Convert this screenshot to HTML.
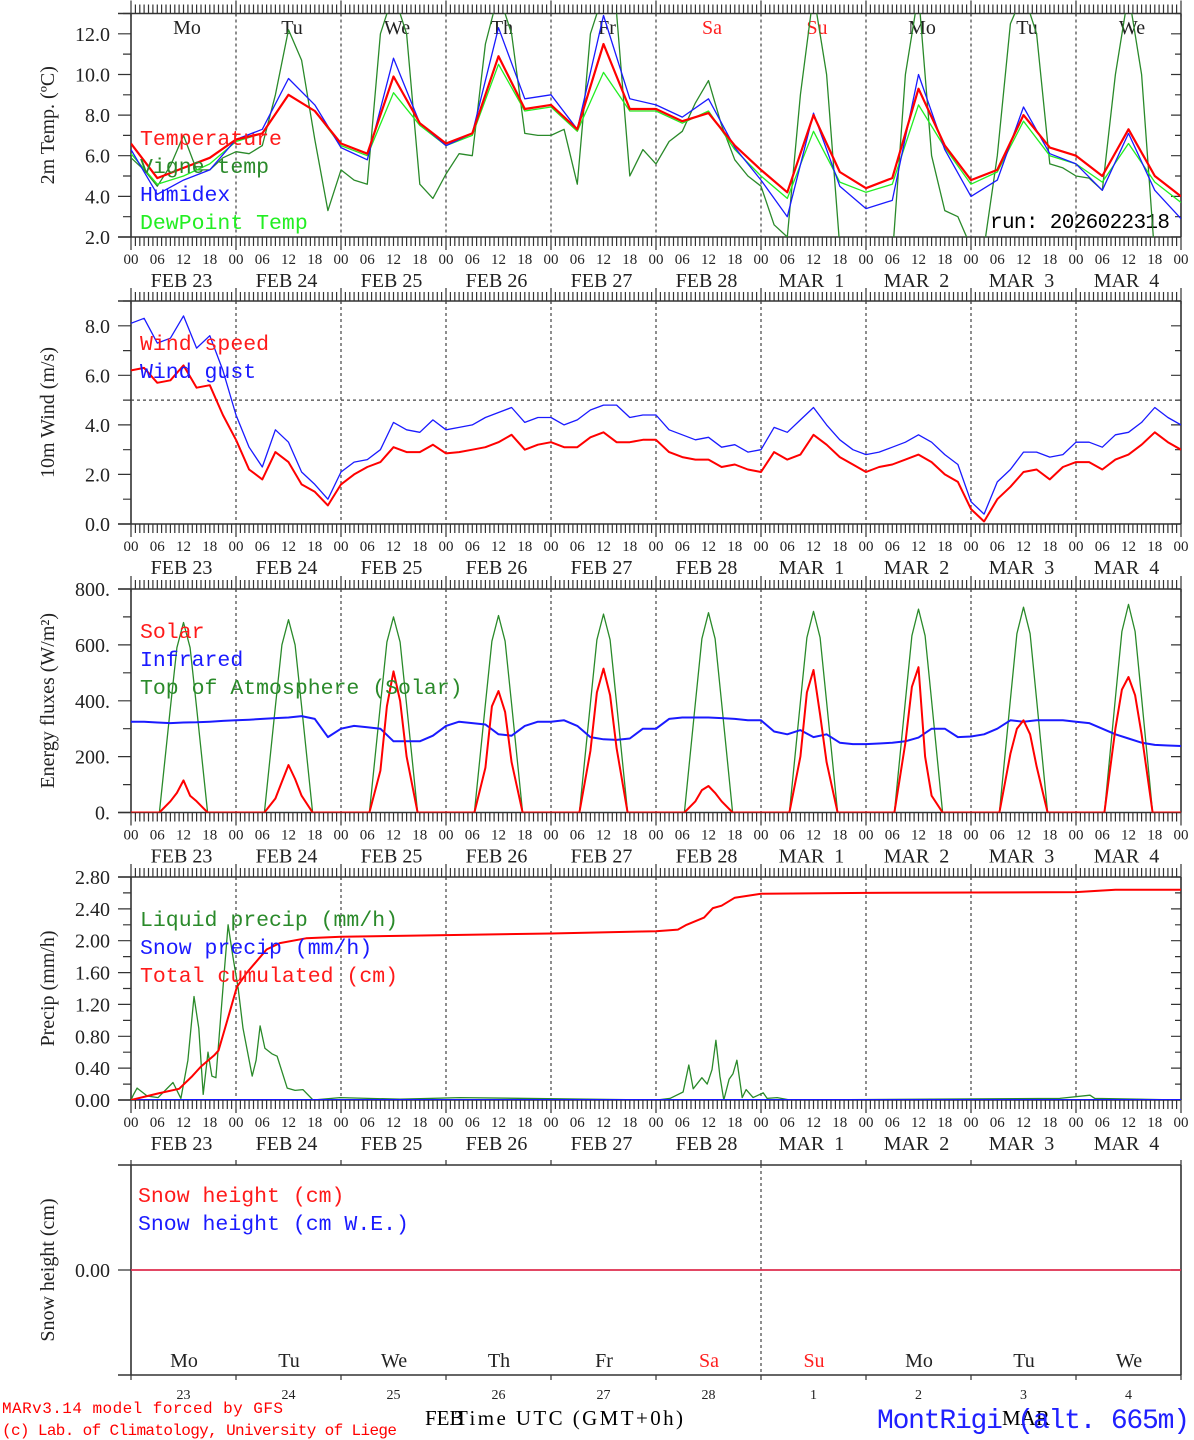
<!DOCTYPE html>
<html><head><meta charset="utf-8"><title>MAR forecast MontRigi</title>
<style>
html,body{margin:0;padding:0;background:#fff;}
svg{display:block;}
text{font-family:"Liberation Serif","DejaVu Serif",serif;}
.mono{font-family:"Liberation Mono","DejaVu Sans Mono",monospace;}
</style></head>
<body>
<svg id="chart" xmlns="http://www.w3.org/2000/svg" width="1194" height="1440" viewBox="0 0 1194 1440">
<rect x="0" y="0" width="1194" height="1440" fill="#fff"/>
<text x="990" y="228" font-size="21" textLength="180" class="mono">run: 2026022318</text>
<text x="2" y="1413" font-size="16" fill="#ff0000" textLength="281" class="mono">MARv3.14 model forced by GFS</text>
<text x="2" y="1435" font-size="16" fill="#ff0000" textLength="395" class="mono">(c) Lab. of Climatology, University of Liege</text>
<text x="425" y="1425" font-size="21">FEB</text>
<text x="455" y="1425" font-size="21" textLength="228">Time UTC (GMT+0h)</text>
<text x="1002" y="1425" font-size="21">MAR</text>
<text x="877" y="1428" font-size="28" fill="#2020ff" textLength="313" class="mono">MontRigi (alt. 665m)</text>
</svg>
<script>
// ---------- DATA ----------
const dayNames=["Mo","Tu","We","Th","Fr","Sa","Su","Mo","Tu","We"];
const dateLabels=["FEB 23","FEB 24","FEB 25","FEB 26","FEB 27","FEB 28","MAR  1","MAR  2","MAR  3","MAR  4"];
const dayNums=["23","24","25","26","27","28","1","2","3","4"];
const hourLabels=["00","06","12","18"];
const p1Ticks=[2,4,6,8,10,12];
const p1TickLabels=["2.0","4.0","6.0","8.0","10.0","12.0"];
const p2Ticks=[0,2,4,6,8];
const p2TickLabels=["0.0","2.0","4.0","6.0","8.0"];
const p3Ticks=[0,200,400,600,800];
const p3TickLabels=["0.","200.","400.","600.","800."];
const p4Ticks=[0,0.4,0.8,1.2,1.6,2.0,2.4,2.8];
const p4TickLabels=["0.00","0.40","0.80","1.20","1.60","2.00","2.40","2.80"];
const p5Ticks=[0];
const p5TickLabels=["0.00"];

// 6-hourly temperatures
const temperature=[6.6,4.9,5.4,5.9, 6.8,7.1,9.0,8.2, 6.6,6.1,9.9,7.6, 6.6,7.1,10.9,8.3, 8.5,7.3,11.5,8.3, 8.3,7.7,8.1,6.5, 5.3,4.2,8.0,5.2, 4.4,4.9,9.3,6.5, 4.8,5.3,8.0,6.4, 6.0,5.0,7.3,5.0, 4.0];
const humidex=[6.3,4.1,4.8,5.3, 6.8,7.3,9.8,8.5, 6.4,5.8,10.8,7.6, 6.5,7.1,12.3,8.8, 9.0,7.3,12.9,8.8, 8.5,7.9,8.8,6.4, 4.8,3.0,8.1,4.5, 3.4,3.8,10.0,6.3, 4.0,4.8,8.4,6.1, 5.6,4.3,7.1,4.3, 2.9];
const dewpoint=[6.1,4.6,5.0,5.6, 6.7,7.1,9.0,8.2, 6.5,6.0,9.1,7.5, 6.5,7.0,10.5,8.2, 8.4,7.2,10.1,8.2, 8.2,7.6,8.2,6.3, 5.0,3.9,7.2,4.7, 4.2,4.6,8.5,6.4, 4.6,5.2,7.7,6.0, 5.6,4.7,6.6,4.7, 3.7];
// 3-hourly vigne temperature
const vigne=[5.9,5.3,4.5,5.5,7.0,5.3,5.3,5.9, 6.2,6.1,6.5,9.0,12.2,10.7,6.8,3.3, 5.3,4.8,4.6,12,14,12,4.6,3.9, 5.1,6.1,6.0,11.5,14,12,7.1,7.0, 7.0,7.3,4.6,12,14,13,5.0,6.3, 5.6,6.7,7.2,8.6,9.7,7.5,5.8,5.0, 4.5,2.6,2.0,9,14,10,1.5,0, 0,0,1.0,10,14,6,3.3,3.0, 1.5,1.5,6,12.5,14,12,5.6,5.4, 5.0,4.9,4.3,10,14,10,1.0,0, 0];
// 3-hourly wind
const windSpeed=[6.2,6.3,5.7,5.8,6.4,5.5,5.6,4.4, 3.4,2.2,1.8,2.9,2.5,1.6,1.3,0.75, 1.6,2.0,2.3,2.5,3.1,2.9,2.9,3.2, 2.85,2.9,3.0,3.1,3.3,3.6,3.0,3.2, 3.3,3.1,3.1,3.5,3.7,3.3,3.3,3.4, 3.4,2.9,2.7,2.6,2.6,2.3,2.4,2.2, 2.1,2.9,2.6,2.8,3.6,3.2,2.7,2.4, 2.1,2.3,2.4,2.6,2.8,2.5,2.0,1.7, 0.6,0.1,1.0,1.5,2.1,2.2,1.8,2.3, 2.5,2.5,2.2,2.6,2.8,3.2,3.7,3.3, 3.0];
const windGust=[8.1,8.3,7.3,7.5,8.4,7.1,7.6,6.2, 4.4,3.1,2.3,3.8,3.3,2.1,1.6,1.0, 2.1,2.5,2.6,3.0,4.1,3.8,3.7,4.2, 3.8,3.9,4.0,4.3,4.5,4.7,4.1,4.3, 4.3,4.0,4.2,4.6,4.8,4.8,4.3,4.4, 4.4,3.8,3.6,3.4,3.5,3.1,3.2,2.9, 3.0,3.9,3.7,4.2,4.7,4.0,3.4,3.0, 2.8,2.9,3.1,3.3,3.6,3.3,2.8,2.4, 0.9,0.4,1.7,2.2,2.9,2.9,2.7,2.8, 3.3,3.3,3.1,3.6,3.7,4.1,4.7,4.3, 4.0];
// daytime energy fluxes: per day, sampled at sunHourOffsets
const sunHourOffsets=[6.5,9,10.5,12,13.5,15,17.5];
const solar=[0,40,70,115,60,40,0, 0,50,110,170,120,60,0, 0,150,380,505,400,200,0, 0,160,380,435,360,180,0, 0,220,430,515,420,230,0, 0,40,80,95,70,40,0, 0,200,430,510,350,180,0, 0,250,450,520,200,60,0, 0,210,300,330,280,165,0, 0,300,440,485,420,280,0];
const toaSolar=[0,375,590,680,590,375,0, 0,380,600,690,600,380,0, 0,385,610,700,610,385,0, 0,388,613,705,613,388,0, 0,390,618,710,618,390,0, 0,393,622,715,622,393,0, 0,396,626,720,626,396,0, 0,400,633,728,633,400,0, 0,404,640,735,640,404,0, 0,410,648,745,648,410,0];
// 3-hourly infrared
const infrared=[325,325,322,320,322,323,325,328, 330,332,335,338,340,345,335,270, 300,310,305,300,255,255,255,275, 310,325,320,315,280,275,310,325, 325,330,310,270,262,260,265,300, 300,335,340,340,340,338,335,330, 330,290,280,295,270,280,250,245, 245,247,250,255,268,300,300,270, 272,280,300,330,325,330,330,330, 325,320,300,280,265,250,242,240, 238];
// precipitation (irregular hours)
const precipHours=[0,0.5,1.4,3.7,6.2,9.6,11.4,13.0,14.4,15.5,16.5,17.6,18.5,19.4,21.3,22.2,23.3,24.5,25.6,27.7,28.6,29.5,30.6,32.2,33.4,35.7,37.5,39.3,41.6,47.8,61.5,75.2,120.2,123.2,126.2,127.5,128.5,130.5,131.7,132.8,133.7,134.6,135.5,136.7,137.6,138.5,139.7,140.6,142.2,144.5,145.4,147.7,150.6,212.3,219.2,220.3,240];
const liquidPrecip=[0,0.06,0.15,0.05,0.03,0.22,0.02,0.5,1.3,0.9,0.07,0.6,0.3,0.28,1.6,2.2,1.8,1.4,0.9,0.3,0.5,0.93,0.65,0.58,0.55,0.15,0.12,0.13,0,0.03,0.01,0.03,0,0.02,0.1,0.44,0.14,0.28,0.2,0.38,0.75,0.3,0,0.26,0.33,0.5,0.03,0.13,0.03,0.09,0.02,0.03,0,0.02,0.06,0.02,0];
const cumHours=[0,6,11,14,16,19,20,22,24.2,26.5,31,34,40,48,72,96,120,125,127,131,133,135,138,144,168,216,225,240];
const cumPrecip=[0,0.08,0.14,0.3,0.42,0.56,0.62,1.0,1.42,1.6,1.89,1.97,2.03,2.05,2.07,2.09,2.12,2.14,2.2,2.29,2.41,2.44,2.54,2.59,2.6,2.61,2.64,2.64];
const snowPrecipHours=[0,240];
const snowPrecip=[0,0];
const snowHeightHours=[0,240];
const snowHeight=[0,0];
const snowWE=[0,0];

// ---------- LAYOUT ----------
const NS='http://www.w3.org/2000/svg';
const svg=document.getElementById('chart');
const X0=131,X1=1181,HOURS=240;
const PANELS=[
 {top:13.5,bottom:237,min:2,max:13,minor:1,ticks:p1Ticks,labels:p1TickLabels,title:"2m Temp. (\u00BAC)",name:"temperature-panel"},
 {top:301,bottom:524,min:0,max:9,minor:1,ticks:p2Ticks,labels:p2TickLabels,title:"10m Wind (m/s)",name:"wind-panel"},
 {top:589,bottom:812.5,min:0,max:800,minor:100,ticks:p3Ticks,labels:p3TickLabels,title:"Energy fluxes (W/m\u00B2)",name:"energy-panel"},
 {top:877,bottom:1100,min:0,max:2.8,minor:0.2,ticks:p4Ticks,labels:p4TickLabels,title:"Precip (mm/h)",name:"precip-panel"},
 {top:1165,bottom:1375,min:-1,max:1,minor:0,ticks:p5Ticks,labels:p5TickLabels,title:"Snow height (cm)",name:"snow-panel"}
];
function xs(h){return X0+(X1-X0)*h/HOURS;}
function ys(p,v){return p.bottom-(v-p.min)/(p.max-p.min)*(p.bottom-p.top);}
function add(parent,tag,attrs,txt){
  const e=document.createElementNS(NS,tag);
  for(const k in attrs) e.setAttribute(k,attrs[k]);
  if(txt!==undefined) e.textContent=txt;
  parent.appendChild(e);
  return e;
}
const AX='#333';

PANELS.forEach((p,pi)=>{
  const g=add(svg,'g',{});
  
  
  const clip=add(svg,'clipPath',{id:'clip'+pi});
  add(clip,'rect',{x:X0,y:p.top,width:X1-X0,height:p.bottom-p.top});
  let d='M118,'+p.top+'H'+X1+'M118,'+p.bottom+'H'+X1+'M'+X0+','+p.top+'V'+p.bottom+'M'+X1+','+p.top+'V'+p.bottom;
  const frame=add(g,'path',{d:d,stroke:AX,'stroke-width':1.6,fill:'none'});
  
  
  let t='';
  for(let h=0;h<=HOURS;h++){
    const x=xs(h).toFixed(1);
    const day=h%24===0;
    if(pi<4){
      t+='M'+x+','+(p.top-(day?13:9))+'V'+(p.top+(day?3:0));
      t+='M'+x+','+p.bottom+'V'+(p.bottom+(day?13:9));
    } else if(day){
      t+='M'+x+','+(p.top-5)+'V'+p.top;
      t+='M'+x+','+p.bottom+'V'+(p.bottom+5);
    }
  }
  if(p.minor>0){
    for(let v=p.min;v<=p.max+1e-6;v+=p.minor){
      const y=ys(p,v).toFixed(1);
      t+='M123,'+y+'H'+X0+'M'+(X1-6)+','+y+'H'+X1;
    }
  }
  p.ticks.forEach(v=>{const y=ys(p,v).toFixed(1);t+='M118,'+y+'H'+X0+'M'+(X1-10)+','+y+'H'+X1;});
  const ticks=add(g,'path',{d:t,stroke:AX,'stroke-width':1.2,fill:'none'});
  
  
  p.ticks.forEach((v,i)=>{
    const tl=add(g,'text',{x:110,y:(ys(p,v)+7).toFixed(1),'font-size':20,'text-anchor':'end',fill:'#222'},p.labels[i]);
    
    
  });
  const cy=(p.top+p.bottom)/2;
  const yt=add(g,'text',{x:0,y:0,'font-size':20,'text-anchor':'middle',fill:'#222',transform:'translate(54,'+cy+') rotate(-90)'},p.title);
  
  
  let dd='';
  if(pi<4){for(let day=1;day<10;day++){const x=xs(day*24).toFixed(1);dd+='M'+x+','+p.top+'V'+p.bottom;}}
  else {const x=xs(144).toFixed(1);dd+='M'+x+','+p.top+'V'+p.bottom;}
  if(pi===1){const y=ys(p,5).toFixed(1);dd+='M'+X0+','+y+'H'+X1;}
  const dl=add(g,'path',{d:dd,stroke:'#444','stroke-width':1.2,'stroke-dasharray':'3,3',fill:'none'});
  
  
  if(pi<4){
    for(let h=0;h<=HOURS;h+=6){
      const hl=add(g,'text',{x:xs(h).toFixed(1),y:p.bottom+27,'font-size':15,'text-anchor':'middle',fill:'#222'},hourLabels[(h/6)%4]);
      
      
    }
    dateLabels.forEach((s,i)=>{
      const dlb=add(g,'text',{x:xs(i*24+12)-2,y:p.bottom+50,'font-size':20,'text-anchor':'middle',fill:'#222','xml:space':'preserve',style:'white-space:pre'},s);
      
      
    });
  } else {
    dayNums.forEach((s,i)=>{
      const dn=add(g,'text',{x:xs(i*24+12),y:p.bottom+24,'font-size':14,'text-anchor':'middle',fill:'#222'},s);
      
      
    });
  }
  dayNames.forEach((s,i)=>{
    const col=(i===5||i===6)?'#ff2020':'#222';
    const yy=pi===0?34:(pi===4?1367:null);
    if(yy===null) return;
    const off=pi===0?56:53;
    const dnm=add(g,'text',{x:xs(i*24)+off,y:yy,'font-size':20,'text-anchor':'middle',fill:col},s);
    
    
  });
  p.g=add(g,'g',{'clip-path':'url(#clip'+pi+')'});
});

const h3=[];for(let h=0;h<=HOURS;h+=3)h3.push(h);
const h6=[];for(let h=0;h<=HOURS;h+=6)h6.push(h);
const sunHours=[];for(let d=0;d<10;d++){sunHourOffsets.forEach(o=>sunHours.push(d*24+o));}

function series(pi,hours,vals,color,w,name,pad){
  const p=PANELS[pi];
  let pts=vals.map((v,i)=>xs(hours[i]).toFixed(1)+','+ys(p,v).toFixed(1)).join(' ');
  if(pad){pts=xs(0)+','+ys(p,0).toFixed(1)+' '+pts+' '+xs(HOURS)+','+ys(p,0).toFixed(1);}
  const e=add(p.g,'polyline',{points:pts,fill:'none',stroke:color,'stroke-width':w,'stroke-linejoin':'round'});
  
  
}
function legend(pi,items,x,y0){
  items.forEach((it,i)=>{
    const e=add(svg,'text',{x:x,y:y0+i*28,'font-size':21.5,fill:it[1],class:'mono'},it[0]);
    
    
  });
}

series(0,h3,vigne,'#2a8a2a',1.3,'vigne-temp-line');
series(0,h6,dewpoint,'#22ee22',1.3,'dewpoint-line');
series(0,h6,humidex,'#1a1aff',1.3,'humidex-line');
series(0,h6,temperature,'#ff0000',2.2,'temperature-line');
legend(0,[["Temperature","#ff1a1a"],["Vigne temp","#2a8a2a"],["Humidex","#1a1aff"],["DewPoint Temp","#22ee22"]],140,145);
series(1,h3,windGust,'#1a1aff',1.3,'wind-gust-line');
series(1,h3,windSpeed,'#ff0000',2,'wind-speed-line');
legend(1,[["Wind speed","#ff1a1a"],["Wind gust","#1a1aff"]],140,350);
series(2,sunHours,toaSolar,'#2a8a2a',1.3,'toa-solar-line',true);
series(2,h3,infrared,'#1a1aff',2,'infrared-line');
series(2,sunHours,solar,'#ff0000',2,'solar-line',true);
legend(2,[["Solar","#ff1a1a"],["Infrared","#1a1aff"],["Top of Atmosphere (Solar)","#2a8a2a"]],140,638);
series(3,precipHours,liquidPrecip,'#2a8a2a',1.3,'liquid-precip-line');
series(3,snowPrecipHours,snowPrecip,'#1a1aff',2,'snow-precip-line');
series(3,cumHours,cumPrecip,'#ff0000',2,'cumulated-precip-line');
legend(3,[["Liquid precip (mm/h)","#2a8a2a"],["Snow precip (mm/h)","#1a1aff"],["Total cumulated (cm)","#ff1a1a"]],140,926);
series(4,snowHeightHours,snowWE,'#1a1aff',1.5,'snow-we-line');
series(4,snowHeightHours,snowHeight,'#ff3030',1.5,'snow-height-line');
legend(4,[["Snow height (cm)","#ff1a1a"],["Snow height (cm W.E.)","#1a1aff"]],138,1202);
</script>
</body></html>
